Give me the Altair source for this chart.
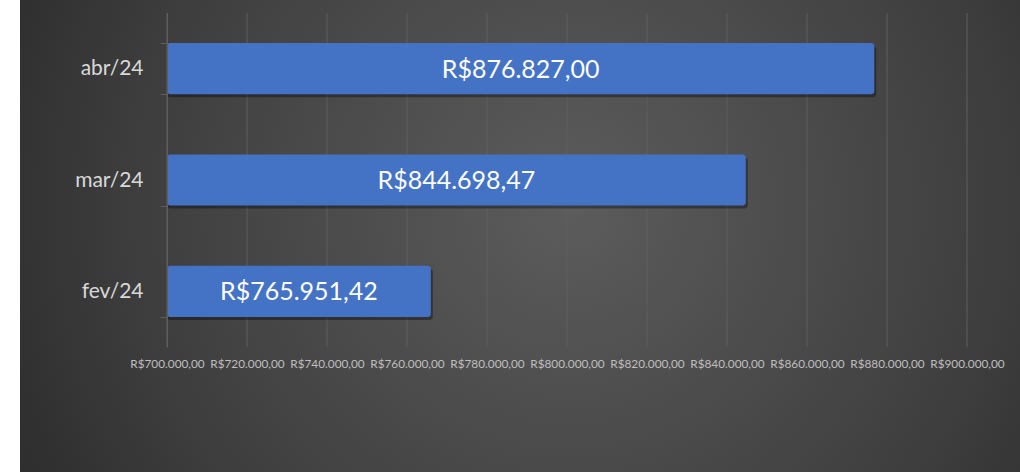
import altair as alt
import pandas as pd

# ---- data ----
months = ["abr/24", "mar/24", "fev/24"]
values = [876827.00, 844698.47, 765951.42]
x_ticks = [700000, 720000, 740000, 760000, 780000, 800000,
           820000, 840000, 860000, 880000, 900000]
x_min, x_max = 700000, 900000


def brl(v):
    s = f"{v:,.2f}"
    return "R$" + s.replace(",", "#").replace(".", ",").replace("#", ".")


df = pd.DataFrame({"mes": months, "valor": values,
                   "rotulo": [brl(v) for v in values]})
ticks_df = pd.DataFrame({"v": x_ticks})
bg_df = pd.DataFrame({"a": [0]})

W, H = 800, 334
FONT = "Lato"
GRID = "#5e5e5e"

xscale = alt.Scale(domain=[x_min, x_max], zero=False, nice=False)
yscale = alt.Scale(domain=months, paddingInner=0.54, paddingOuter=0.27)

gradient = {
    "gradient": "radial",
    "stops": [
        {"offset": 0, "color": "#5c5c5c"},
        {"offset": 0.55, "color": "#3e3e3e"},
        {"offset": 1, "color": "#1e1e1e"},
    ],
    "x1": 0.55, "y1": 0.47, "r1": 0,
    "x2": 0.55, "y2": 0.47, "r2": 0.78,
}

bg = alt.Chart(bg_df).mark_rect(fill=gradient, strokeWidth=0).encode(
    x=alt.value(-147), x2=alt.value(853),
    y=alt.value(-13), y2=alt.value(459),
)

grid = alt.Chart(ticks_df).mark_rule(color=GRID, strokeWidth=1).encode(
    x=alt.X("v:Q", scale=xscale,
            axis=alt.Axis(values=x_ticks, title=None, grid=False, domain=False,
                          ticks=False, labelFontSize=11.8, labelFont=FONT,
                          labelColor="#bfbfbf", labelPadding=11, zindex=1,
                          labelOverlap=False, labelFlush=False, labelBound=False,
                          labelExpr="'R$' + format(datum.value/1000, 'd') + '.000,00'")),
)

yaxis = alt.Axis(title=None, domain=True, domainColor=GRID, ticks=True,
                 tickBand="extent", tickSize=7, tickColor=GRID, grid=False,
                 labelFontSize=21, labelFont=FONT, labelColor="#d9d9d9",
                 labelPadding=17, zindex=1)

shadow = alt.Chart(df).mark_bar(color="#000000", opacity=0.35, cornerRadiusEnd=3,
                                xOffset=2, yOffset=3).encode(
    y=alt.Y("mes:N", sort=months, scale=yscale, axis=yaxis),
    x=alt.X("valor:Q", scale=xscale),
    x2=alt.datum(x_min),
)

bars = alt.Chart(df).mark_bar(color="#4472C4", cornerRadiusEnd=3).encode(
    y=alt.Y("mes:N", sort=months, scale=yscale, axis=yaxis),
    x=alt.X("valor:Q", scale=xscale),
    x2=alt.datum(x_min),
)

labels = alt.Chart(df).transform_calculate(
    mid=f"(datum.valor + {x_min}) / 2"
).mark_text(color="white", fontSize=25, font=FONT, dy=1).encode(
    y=alt.Y("mes:N", sort=months, scale=yscale, axis=yaxis),
    x=alt.X("mid:Q", scale=xscale),
    text="rotulo:N",
)

chart = alt.layer(bg, grid, shadow, bars, labels).properties(
    width=W, height=H,
    autosize=alt.AutoSizeParams(type="none"),
    padding={"left": 167, "top": 13, "right": 53, "bottom": 125},
    background="white",
).configure_view(strokeWidth=0)

chart.save("out.html", embed_options={"renderer": "svg", "actions": False})
